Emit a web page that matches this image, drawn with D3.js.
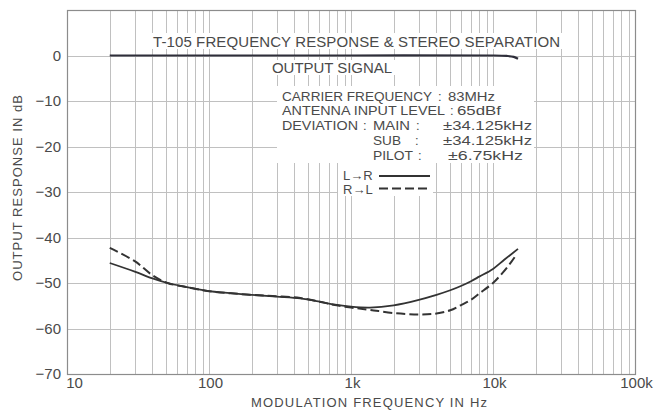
<!DOCTYPE html>
<html>
<head>
<meta charset="utf-8">
<script src="https://cdn.jsdelivr.net/npm/d3@7"></script>
<style>
  html, body { margin: 0; padding: 0; background: #fff; }
  svg { display: block; }
  text { font-family: "Liberation Sans", Arial, sans-serif; fill: #4a4a4a; }
</style>
</head>
<body>
<svg id="chart" width="671" height="412"></svg>
<script>
// ---- data ----
const outputFreq = [20, 100, 1000, 10000, 12500, 14000, 15000];
const outputDb   = [0, 0, 0, 0, -0.1, -0.3, -0.7];

const lrFreq = [20, 30, 40, 51, 70, 100, 200, 300, 440, 600, 750, 1000, 1360, 2000, 3000, 4000, 5000, 6000, 7000, 8000, 10000, 12000, 15000];
const lrDb   = [-45.6, -47.5, -49.0, -50.0, -50.9, -51.8, -52.6, -53.0, -53.4, -54.1, -54.7, -55.2, -55.4, -54.9, -53.7, -52.6, -51.6, -50.6, -49.6, -48.6, -46.9, -44.9, -42.5];

const rlFreq = [20, 30, 40, 51, 70, 100, 200, 300, 440, 600, 750, 1000, 1360, 2000, 3000, 4000, 5000, 6000, 7000, 8000, 10000, 11800, 13500, 14600];
const rlDb   = [-42.3, -45.2, -48.3, -50.0, -50.9, -51.8, -52.6, -52.9, -53.3, -54.1, -54.8, -55.4, -55.9, -56.6, -56.9, -56.7, -56.0, -54.8, -53.7, -52.3, -50.0, -47.6, -45.3, -43.8];

const yTickValues = [0, -10, -20, -30, -40, -50, -60, -70];
const yTickLabels = ["0", "\u221210", "\u221220", "\u221230", "\u221240", "\u221250", "\u221260", "\u221270"];
const xTickValues = [10, 100, 1000, 10000, 100000];
const xTickLabels = ["10", "100", "1k", "10k", "100k"];

const titleText = "T-105 FREQUENCY RESPONSE & STEREO SEPARATION";
const outputLabel = "OUTPUT SIGNAL";
const xAxisTitle = "MODULATION FREQUENCY IN Hz";
const yAxisTitle = "OUTPUT RESPONSE IN dB";
const legendLabels = ["L\u2192R", "R\u2192L"];

// ---- scales ----
const svg = d3.select("#chart");
const x = d3.scaleLog().domain([10, 100000]).range([67, 635]);
const y = d3.scaleLinear().domain([-70, 10]).range([374, 10]);

const gridColor = "#c0c0c0";

// grid
const xGrid = x.ticks().filter(v => v > 10 && v < 100000);
svg.append("g").selectAll("line").data(xGrid).join("line")
  .attr("x1", d => Math.round(x(d)) + 0.5).attr("x2", d => Math.round(x(d)) + 0.5)
  .attr("y1", y(10)).attr("y2", y(-70))
  .attr("stroke", gridColor).attr("stroke-width", 1);
const yGrid = d3.range(-60, 10, 10);
svg.append("g").selectAll("line").data(yGrid).join("line")
  .attr("x1", x(10)).attr("x2", x(100000))
  .attr("y1", d => Math.round(y(d)) + 0.5).attr("y2", d => Math.round(y(d)) + 0.5)
  .attr("stroke", gridColor).attr("stroke-width", 1);

// white boxes behind annotations
const boxes = [
  [150, 33, 414, 16],   // title
  [268, 60, 128, 15],   // output signal label
  [277, 86, 257, 77],   // info block
  [338, 163, 95, 33]    // legend
];
svg.append("g").selectAll("rect").data(boxes).join("rect")
  .attr("x", d => d[0]).attr("y", d => d[1]).attr("width", d => d[2]).attr("height", d => d[3])
  .attr("fill", "#fff");

// frame
svg.append("rect")
  .attr("x", x(10) + 0.5).attr("y", y(10) + 0.5)
  .attr("width", x(100000) - x(10)).attr("height", y(-70) - y(10))
  .attr("fill", "none").attr("stroke", "#8c8c8c").attr("stroke-width", 1.2);

// axes labels
const yAxis = d3.axisLeft(y).tickValues(yTickValues).tickSize(0).tickPadding(0)
  .tickFormat((d, i) => yTickLabels[i]);
const gy = svg.append("g").attr("transform", "translate(61,0)").call(yAxis);
gy.select(".domain").remove();
gy.selectAll("text").attr("font-size", 15).style("font-family", '"Liberation Sans", Arial, sans-serif').attr("fill", "#4a4a4a");

const xAxis = d3.axisBottom(x).tickValues(xTickValues).tickSize(0).tickPadding(0)
  .tickFormat((d, i) => xTickLabels[i]);
const gx = svg.append("g").attr("transform", "translate(0,377)").call(xAxis);
gx.select(".domain").remove();
gx.selectAll("text").attr("font-size", 15).style("font-family", '"Liberation Sans", Arial, sans-serif').attr("fill", "#4a4a4a")
  .attr("dy", "0.75em")
  .attr("dx", (d, i) => i === 0 ? 7 : 1);

// axis titles
svg.append("text").attr("x", 369).attr("y", 407).attr("text-anchor", "middle")
  .attr("font-size", 13).attr("textLength", 236).attr("lengthAdjust", "spacing")
  .text(xAxisTitle);
svg.append("text").attr("transform", "translate(22,188) rotate(-90)").attr("text-anchor", "middle")
  .attr("font-size", 13).attr("textLength", 186).attr("lengthAdjust", "spacing")
  .text(yAxisTitle);

// chart title and annotations
svg.append("text").attr("x", 153).attr("y", 47).attr("font-size", 15)
  .attr("textLength", 407).attr("lengthAdjust", "spacing").text(titleText);
svg.append("text").attr("x", 272).attr("y", 72.5).attr("font-size", 15)
  .attr("textLength", 120).attr("lengthAdjust", "spacing").text(outputLabel);

const info = [
  ["CARRIER FREQUENCY", 282, 101, 150], [":", 438, 101], ["83MHz", 448, 101, 47],
  ["ANTENNA INPUT LEVEL", 282, 115, 163], [":", 450, 115], ["65dBf", 457, 115, 44],
  ["DEVIATION", 282, 130, 76], [":", 363, 130], ["MAIN", 373, 130, 37], [":", 416, 130], ["\u00b134.125kHz", 443, 130, 89],
  ["SUB", 373, 145, 28], [":", 415, 145], ["\u00b134.125kHz", 443, 145, 89],
  ["PILOT", 373, 159.5, 40], [":", 418, 159.5], ["\u00b16.75kHz", 448, 159.5, 75]
];
svg.append("g").selectAll("text").data(info).join("text")
  .attr("x", d => d[1]).attr("y", d => d[2]).attr("font-size", 13)
  .each(function(d) { if (d[3]) d3.select(this).attr("textLength", d[3]).attr("lengthAdjust", "spacingAndGlyphs"); })
  .text(d => d[0]);

// legend
svg.append("text").attr("x", 343).attr("y", 180).attr("font-size", 13).text(legendLabels[0]);
svg.append("text").attr("x", 343).attr("y", 194).attr("font-size", 13).text(legendLabels[1]);
svg.append("line").attr("x1", 379).attr("x2", 430).attr("y1", 176).attr("y2", 176)
  .attr("stroke", "#333").attr("stroke-width", 2);
svg.append("line").attr("x1", 379).attr("x2", 430).attr("y1", 188.5).attr("y2", 188.5)
  .attr("stroke", "#333").attr("stroke-width", 2).attr("stroke-dasharray", "9,4");

// curves
const line = d3.line().x(d => x(d[0])).y(d => y(d[1])).curve(d3.curveCatmullRom.alpha(0.5));
svg.append("path").datum(d3.zip(outputFreq, outputDb)).attr("d", line)
  .attr("fill", "none").attr("stroke", "#2e2e3a").attr("stroke-width", 2.2);
svg.append("path").datum(d3.zip(lrFreq, lrDb)).attr("d", line)
  .attr("fill", "none").attr("stroke", "#333").attr("stroke-width", 1.8);
svg.append("path").datum(d3.zip(rlFreq, rlDb)).attr("d", line)
  .attr("fill", "none").attr("stroke", "#333").attr("stroke-width", 2).attr("stroke-dasharray", "9,4");
</script>
</body>
</html>
